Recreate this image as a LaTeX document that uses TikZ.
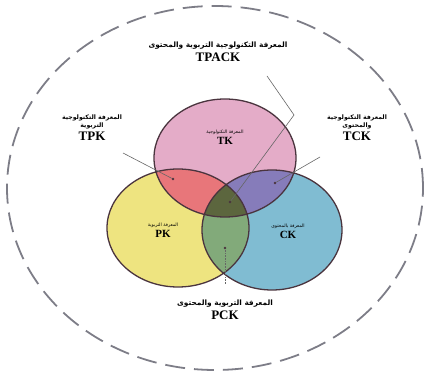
\documentclass[tikz,border=0pt]{standalone}
\usepackage{fontspec}
\setmainfont{Liberation Serif}
\newfontfamily\arabicfont[Script=Arabic]{DejaVu Sans}
\TeXXeTstate=1
\usetikzlibrary{positioning}
\definecolor{tkpink}{RGB}{228,172,200}
\definecolor{pkyellow}{RGB}{238,228,128}
\definecolor{ckblue}{RGB}{128,188,210}
\definecolor{tpkred}{RGB}{232,118,122}
\definecolor{tckviolet}{RGB}{134,124,186}
\definecolor{pckgreen}{RGB}{130,170,122}
\definecolor{tpackolive}{RGB}{92,102,62}
\definecolor{rimline}{RGB}{74,52,62}
\definecolor{dashgrey}{RGB}{125,125,135}

\begin{document}
\begin{tikzpicture}[x=1pt,y=-1pt,
    ar/.style={font=\arabicfont\fontsize{4.6}{6}\selectfont,inner sep=0pt,align=center},
    arout/.style={font=\arabicfont\bfseries\fontsize{6.2}{7.6}\selectfont,inner sep=0pt,align=center},
    artop/.style={font=\arabicfont\bfseries\fontsize{7.4}{9}\selectfont,inner sep=0pt,align=center},
    en/.style={font=\bfseries\fontsize{11}{12}\selectfont,inner sep=0pt},
    enout/.style={font=\bfseries\fontsize{13}{14}\selectfont,inner sep=0pt},
    dot/.style={circle,fill=rimline,inner sep=0pt,minimum size=2.6pt},
    pointer/.style={draw=black!60,line width=0.6pt}]
  \useasboundingbox (0,0) rectangle (426,374);
  % outer context
  \draw[dashgrey,line width=1.8pt,dash pattern=on 20pt off 9pt]
    (215,188) ellipse [x radius=208pt,y radius=182pt];
  % three knowledge areas
  \def\tkarea{(225,158) ellipse [x radius=71pt,y radius=59pt]}
  \def\pkarea{(178,228) ellipse [x radius=71pt,y radius=59pt]}
  \def\ckarea{(272,230) ellipse [x radius=70pt,y radius=60pt]}
  \fill[tkpink] \tkarea;
  \fill[pkyellow] \pkarea;
  \fill[ckblue] \ckarea;
  \begin{scope}
    \clip \tkarea;
    \fill[tpkred] \pkarea;
    \fill[tckviolet] \ckarea;
  \end{scope}
  \begin{scope}
    \clip \pkarea;
    \fill[pckgreen] \ckarea;
    \clip \ckarea;
    \fill[tpackolive] \tkarea;
  \end{scope}
  \draw[rimline,line width=1.3pt] \tkarea \pkarea \ckarea;
  % labels inside
  \node[ar] (tkar) at (225,132) {\beginR المعرفة التكنولوجية\endR};
  \node[en,below=3pt of tkar] (tk) {TK};
  \node[ar] (pkar) at (163,225) {\beginR المعرفة التربوية\endR};
  \node[en,below=3pt of pkar] (pk) {PK};
  \node[ar] (ckar) at (288,226) {\beginR المعرفة بالمحتوى\endR};
  \node[en,below=3pt of ckar] (ck) {CK};
  % labels outside
  \node[artop] (tpackar) at (218,46) {\beginR المعرفة التكنولوجية التربوية والمحتوى\endR};
  \node[enout,below=3pt of tpackar] (tpack) {TPACK};
  \node[arout] (tpkar) at (92,122) {\beginR المعرفة التكنولوجية\endR\\\beginR التربوية\endR};
  \node[enout,below=2.5pt of tpkar] (tpk) {TPK};
  \node[arout] (tckar) at (357,122) {\beginR المعرفة التكنولوجية\endR\\\beginR والمحتوى\endR};
  \node[enout,below=2.5pt of tckar] (tck) {TCK};
  \node[artop] (pckar) at (225,304) {\beginR المعرفة التربوية والمحتوى\endR};
  \node[enout,below=3pt of pckar] (pck) {PCK};
  % pointers
  \node[dot] (tpkdot) at (173,179) {};
  \node[dot] (tckdot) at (275,183) {};
  \node[dot] (tpackdot) at (230,202) {};
  \node[dot] (pckdot) at (225,248) {};
  \coordinate (tpkfrom) at (123,153);
  \coordinate (tckfrom) at (320,157);
  \coordinate (tpackfrom) at (267,76);
  \coordinate (tpackbend) at (294,115);
  \coordinate (pckfrom) at (225,284);
  \draw[pointer] (tpkfrom) -- (tpkdot);
  \draw[pointer] (tckfrom) -- (tckdot);
  \draw[pointer] (tpackfrom) -- (tpackbend) -- (tpackdot);
  \draw[pointer,densely dotted] (pckfrom) -- (pckdot);
\end{tikzpicture}
\end{document}
